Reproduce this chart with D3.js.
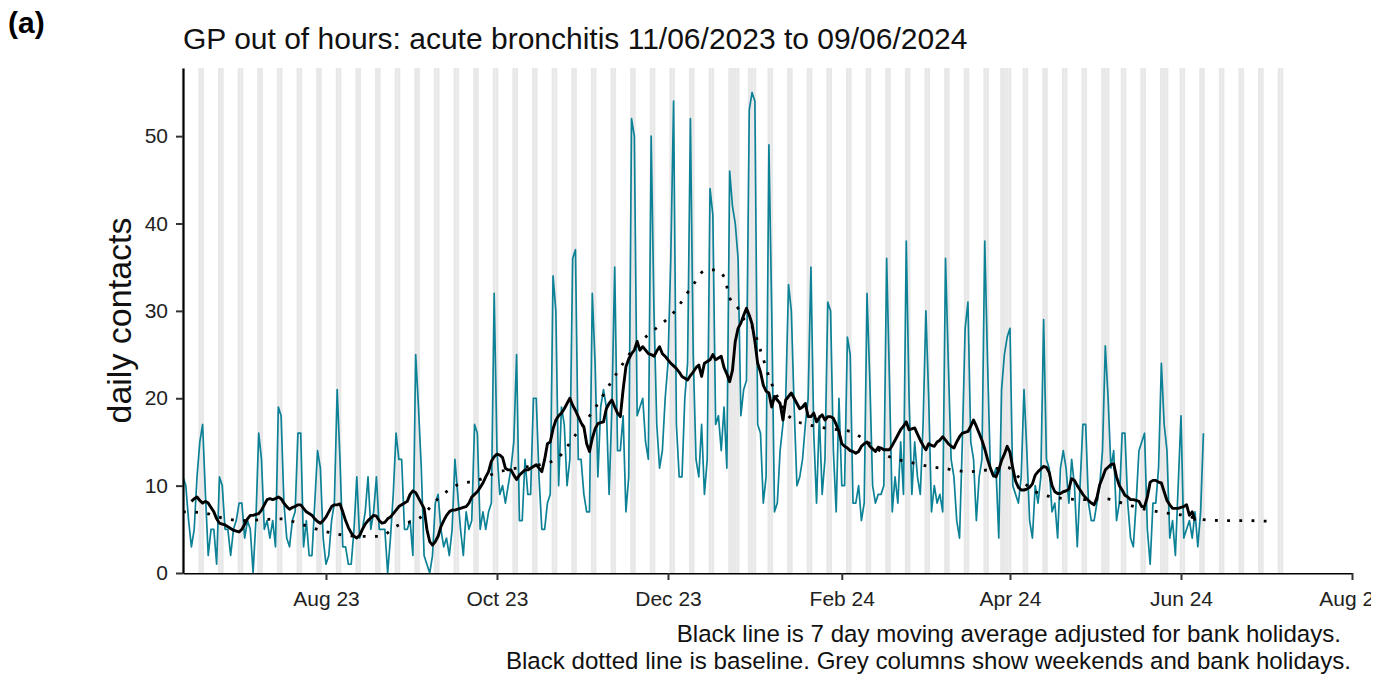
<!DOCTYPE html>
<html>
<head>
<meta charset="utf-8">
<script src="https://cdn.jsdelivr.net/npm/d3@7"></script>
<style>
  body { margin: 0; background: #fff; }
  svg { display: block; }
  text { font-family: "Liberation Sans", Arial, sans-serif; }
</style>
</head>
<body>
<script>
// daily series starts on this date, one value per day
var startDate = "2023-06-11";

// daily contacts (teal line), 11/06/2023 .. 09/06/2024
var daily = [
  11,10,6,3,5,11,15,17,9,2, 5,5,1,11,10,5,5,2,5,6, 8,8,4,6,5,0,6,16,13,5, 6,4,6,3,19,18,8,4,3,6, 7,
  16,16,3,6,2,2,8,14,12,4, 1,2,6,8,21,13,3,3,1,1, 5,11,4,5,7,11,5,7,11,5, 5,5,0,4,9,16,13,13,5,5, 6,
  2,25,19,12,2,1,0,2,8,9, 5,3,4,2,5,13,9,5,2,7, 5,6,17,16,5,7,5,7,8,32, 14,9,10,8,10,12,15,25,6,6, 13,
  9,9,20,20,11,5,5,8,9,34, 30,10,19,17,10,13,36,37,13,13, 9,7,7,32,24,11,19,21,19,9, 19,35,14,14,18,7,11,52,50,
  18,19,20,15,13,50,30,17,12,14, 20,24,36,54,17,11,11,20,24,52, 25,13,11,17,9,13,44,41,17,18, 14,19,12,46,42,40,36,18,21,22, 53,55,54,
  17,16,8,11,49,30,7,8,14,17, 20,33,30,19,10,11,13,17,20,35, 16,8,18,9,13,31,30,14,7,20, 10,10,27,25,8,8,10,6,8,32,
  22,10,8,9,9,10,36,22,7,11, 8,15,9,38,20,9,15,11,9,17, 30,20,7,10,8,9,7,36,24,13, 11,6,4,15,28,31,15,13,6,11, 13,38,
  24,12,11,12,4,21,25,27,28,10, 9,8,11,21,14,6,4,10,8,11, 29,13,12,7,8,4,12,14,12,8, 13,10,3,10,17,17,8,6,6,8,
  10,14,26,20,12,14,6,8,16,16, 8,4,3,8,14,15,16,5,1,8, 8,12,24,17,14,4,6,2,10,18, 4,5,6,4,7,3,7,16
];

// 7 day moving average (black line), starts on day 3 of the series
var maStartDay = 3;
var movingAvg = [
  8.2,8.5,8.7,8.3,8.0,8.2,8.0,7.5,7.0,6.2, 5.7,5.6,5.5,5.3,5.1,4.9,4.8,4.7,5.0,5.6, 6.2,6.6,6.6,6.7,6.8,7.2,7.8,8.4,8.5,8.4, 8.5,8.7,8.5,8.0,7.6,7.3,7.5,7.6,
  7.8,7.8,7.4,7.0,6.8,6.6,6.2,5.9,5.7,6.0, 6.4,7.0,7.6,7.8,7.8,7.9,7.0,6.0,5.2,4.6, 4.2,4.0,4.3,5.0,5.6,6.0,6.3,6.6,6.5,6.0, 5.7,5.8,6.2,6.4,6.8,7.2,7.6,7.8,8.0,8.2, 9.0,
  9.4,9.2,8.6,8.0,7.4,5.0,3.6,3.2,3.6,4.2, 5.3,6.0,6.6,7.0,7.2,7.2,7.3,7.4,7.5,7.6, 8.0,8.7,9.0,9.3,9.8,10.3,11.0,11.6,12.8,13.3, 13.6,13.5,13.2,12.0,11.8,11.8,11.2,10.7,11.2,11.5, 11.8,
  11.8,12.0,12.2,12.4,12.0,11.6,13.0,14.8,15.0,16.5, 17.5,18.0,18.3,18.8,19.4,20.0,19.2,18.6,17.9,17.2, 16.7,14.8,13.9,15.4,16.5,17.1,17.2,17.3,18.8,19.4, 19.8,19.0,18.3,17.9,21.0,23.6,24.5,25.1,25.5,
  26.5,25.5,25.9,25.5,25.1,25.0,24.8,25.4,25.9,25.1, 24.8,24.4,24.0,23.7,23.4,23.0,22.5,22.3,22.1,22.6, 23.0,23.5,23.8,22.5,24.0,24.2,24.4,25.0,24.4,24.6, 24.8,23.5,22.8,21.9,23.2,26.5,28.0,28.6,29.5,30.3, 29.5,28.5,26.5,
  24.0,23.0,21.5,20.8,20.6,19.0,20.2,19.8,19.4,17.5, 19.8,20.2,20.6,20.0,19.4,18.8,19.0,19.4,17.9,17.9, 18.3,17.3,17.8,18.1,17.5,17.9,17.9,17.7,17.0,16.2, 14.8,14.5,14.3,14.0,13.9,13.7,13.9,14.5,14.8,15.0,
  14.5,14.2,13.9,14.4,14.3,14.1,14.1,14.1,14.6,15.2, 15.8,16.4,16.8,17.3,16.4,16.5,16.6,15.9,15.2,14.6, 14.1,14.8,14.6,14.5,15.0,15.2,15.6,15.2,14.8,14.5, 14.3,15.0,15.6,16.0,16.1,16.2,16.8,17.5,16.8,16.0, 15.2,14.2,
  13.0,12.0,11.2,11.0,11.8,12.9,13.6,14.5,13.8,12.0, 10.5,9.8,9.5,9.5,9.6,9.8,10.2,11.2,11.6,11.9, 12.2,12.1,11.5,10.0,9.3,9.1,9.1,9.3,9.4,9.6, 10.8,10.6,10.0,9.5,9.0,8.6,8.3,8.0,7.8,8.6,
  10.1,10.9,11.8,12.1,12.4,12.5,11.0,10.0,9.5,8.9, 8.7,8.4,8.4,8.3,8.2,7.6,7.6,8.7,10.4,10.6, 10.6,10.4,10.3,9.3,8.3,7.8,7.4,7.4,7.4,7.5, 7.6,7.8,6.6,7.0,6.0
];

// baseline (dotted line): day offset from startDate and value
var baselineDays = [0,7,14,21,28,35,42,49,56,63,70,77,84,91,98,105,112,119,126,133,140,147,154,161,168,175,182,186,190,193,195,198,200,203,206,209,212,217,224,231,238,245,252,259,266,273,280,287,294,298,304,315,322,329,336,343,350,357,364,371,378,389];
var baselineVals = [7.0,6.9,6.3,6.0,6.1,6.2,5.6,4.9,4.4,4.2,4.2,5.5,6.2,8.5,10.1,10.6,11.5,12.0,12.3,13.0,15.8,18.9,22.5,25.8,27.8,29.8,33.0,34.6,34.7,33.9,31.5,30.3,29.1,28.2,25.5,22.5,20.2,17.7,16.9,16.5,16.2,14.8,13.3,12.7,12.2,11.9,11.6,11.8,12.1,11.0,9.3,8.5,8.4,8.5,7.9,7.3,6.9,6.6,6.1,6.0,6.0,5.9];

var bankHolidays = ["2023-12-25", "2023-12-26", "2024-01-01", "2024-03-29", "2024-04-01", "2024-05-06", "2024-05-27"];
var greyEnd = "2024-07-07";

var xTicks = ["2023-08-01", "2023-10-01", "2023-12-01", "2024-02-01", "2024-04-01", "2024-06-01", "2024-08-01"];
var yTicks = [0, 10, 20, 30, 40, 50];

var titleText = "GP out of hours: acute bronchitis 11/06/2023 to 09/06/2024";
var captionLines = ["Black line is 7 day moving average adjusted for bank holidays.",
                    "Black dotted line is baseline. Grey columns show weekends and bank holidays."];

var parse = d3.utcParse("%Y-%m-%d");
var start = parse(startDate);
function dayDate(d) { return d3.utcDay.offset(start, d); }

var width = 1391, height = 675;
var plotLeft = 183, plotRight = 1352, plotTop = 68, plotBottom = 573;
var yMax = 57.8;

var svg = d3.select("body").append("svg")
  .attr("width", width)
  .attr("height", height);

var x = d3.scaleUtc()
  .domain([start, parse("2024-08-01")])
  .range([plotLeft, plotRight]);

var y = d3.scaleLinear()
  .domain([0, yMax])
  .range([plotBottom, plotTop]);

// grey columns: weekends and bank holidays
var holidaySet = new Set(bankHolidays);
var fmt = d3.utcFormat("%Y-%m-%d");
var greyDays = d3.utcDay.range(start, d3.utcDay.offset(parse(greyEnd), 1)).filter(function(d) {
  var wd = d.getUTCDay();
  return wd === 0 || wd === 6 || holidaySet.has(fmt(d));
});

svg.append("g").selectAll("rect")
  .data(greyDays)
  .enter()
  .append("rect")
  .attr("x", function(d) { return x(d3.utcHour.offset(d, -12)); })
  .attr("width", function(d) { return x(d3.utcHour.offset(d, 12)) - x(d3.utcHour.offset(d, -12)); })
  .attr("y", y(yMax))
  .attr("height", y(0) - y(yMax))
  .style("fill", "#e8e8e8");

svg.append("clipPath").attr("id", "plotclip")
  .append("rect")
  .attr("x", plotLeft).attr("y", plotTop)
  .attr("width", plotRight - plotLeft).attr("height", plotBottom - plotTop);

var plot = svg.append("g").attr("clip-path", "url(#plotclip)");

var dailyLine = d3.line()
  .x(function(d, i) { return x(dayDate(i)); })
  .y(function(d) { return y(d); });

plot.append("path")
  .datum(daily)
  .attr("d", dailyLine)
  .style("fill", "none")
  .style("stroke", "#0d8196")
  .style("stroke-width", 1.7)
  .style("stroke-linejoin", "round");

var maLine = d3.line()
  .x(function(d, i) { return x(dayDate(i + maStartDay)); })
  .y(function(d) { return y(d); });

plot.append("path")
  .datum(movingAvg)
  .attr("d", maLine)
  .style("fill", "none")
  .style("stroke", "#000")
  .style("stroke-width", 2.9)
  .style("stroke-linejoin", "round");

var baseLine = d3.line()
  .curve(d3.curveMonotoneX)
  .x(function(d) { return x(dayDate(d[0])); })
  .y(function(d) { return y(d[1]); });

plot.append("path")
  .datum(baselineDays.map(function(d, i) { return [d, baselineVals[i]]; }))
  .attr("d", baseLine)
  .style("fill", "none")
  .style("stroke", "#000")
  .style("stroke-width", 2.8)
  .style("stroke-dasharray", "2.8,9.4");

// axes
svg.append("clipPath").attr("id", "xaxisclip")
  .append("rect").attr("x", 0).attr("y", 0).attr("width", 1371).attr("height", height);

var xAxis = svg.append("g")
  .attr("transform", "translate(0," + plotBottom + ")")
  .attr("clip-path", "url(#xaxisclip)")
  .call(d3.axisBottom(x)
    .tickValues(xTicks.map(parse))
    .tickFormat(d3.utcFormat("%b %y"))
    .tickSize(7)
    .tickSizeOuter(0)
    .tickPadding(11));

var yAxis = svg.append("g")
  .attr("transform", "translate(" + plotLeft + ",0)")
  .call(d3.axisLeft(y)
    .tickValues(yTicks)
    .tickSize(7)
    .tickSizeOuter(0)
    .tickPadding(8));

[xAxis, yAxis].forEach(function(g) {
  g.select(".domain").style("stroke", "#000").style("stroke-width", 2.2);
  g.selectAll(".tick line").style("stroke", "#333").style("stroke-width", 2);
  g.selectAll(".tick text")
    .style("font-size", "21px")
    .style("fill", "#222")
    .style("font-family", "'Liberation Sans', Arial, sans-serif");
});

// texts
svg.append("text")
  .attr("x", 8).attr("y", 33)
  .style("font-size", "30px")
  .style("font-weight", "bold")
  .text("(a)");

svg.append("text")
  .attr("x", plotLeft).attr("y", 49)
  .style("font-size", "30px")
  .style("fill", "#111")
  .text(titleText);

svg.append("text")
  .attr("transform", "translate(131," + ((plotTop + plotBottom) / 2) + ") rotate(-90)")
  .attr("text-anchor", "middle")
  .style("font-size", "34px")
  .style("fill", "#111")
  .text("daily contacts");

svg.selectAll(".caption")
  .data(captionLines)
  .enter()
  .append("text")
  .attr("class", "caption")
  .attr("x", function(d, i) { return i === 0 ? 1341 : 1351; })
  .attr("y", function(d, i) { return 642 + i * 27; })
  .attr("text-anchor", "end")
  .style("font-size", "24.1px")
  .style("fill", "#111")
  .text(function(d) { return d; });
</script>
</body>
</html>
